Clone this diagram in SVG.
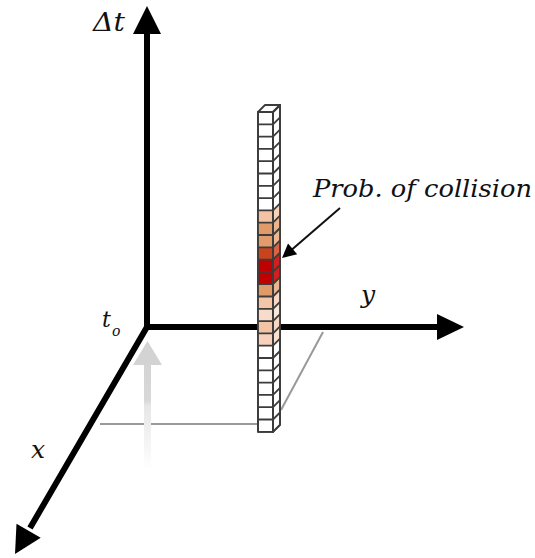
<svg xmlns="http://www.w3.org/2000/svg" width="535" height="558" viewBox="0 0 535 558">
<style>
.ax{stroke:#000;stroke-width:6;fill:none}
.gl{stroke:#999;stroke-width:2;fill:none}
.cell{stroke:#3c3c3c;stroke-width:1.8;stroke-linejoin:round}
.lbl{font-family:"DejaVu Serif","Liberation Serif",serif;font-style:italic;fill:#111}
</style>
<defs>
<linearGradient id="fade" x1="0" y1="0" x2="0" y2="1">
<stop offset="0" stop-color="#d4d4d4"/>
<stop offset="0.35" stop-color="#d8d8d8"/>
<stop offset="0.4" stop-color="#e6e6e6"/>
<stop offset="1" stop-color="#ffffff"/>
</linearGradient>
</defs>
<g id="floor">
<path class="gl" d="M323 332L281 410"/>
<path class="gl" d="M100 424H258"/>
<rect x="144" y="363" width="7" height="107" fill="url(#fade)"/>
<polygon points="147.5,341 133,365 162,365" fill="#d3d3d3"/>
</g>
<g id="connectors">
<path class="ax" d="M147 30V327L30 528"/>
<path class="ax" d="M147 327H440"/>
<polygon points="147,6 133,34 161,34" fill="#000"/>
<polygon points="464,327 437,314 437,340" fill="#000"/>
<polygon points="15,554 40.7,537.7 16.5,523.7" fill="#000"/>
</g>
<g id="column">
<rect class="cell" x="258" y="112" width="15" height="319.8" fill="#fff"/>
<polygon class="cell" points="273,112 280,105 280,424.8 273,431.8" fill="#fff"/>
<polygon class="cell" points="258,112 265,105 280,105 273,112" fill="#fff"/>
<rect x="258" y="210.4" width="15" height="12.3" fill="#f2c2a2"/>
<rect x="258" y="222.7" width="15" height="12.3" fill="#e29a68"/>
<rect x="258" y="235" width="15" height="12.3" fill="#e29c6c"/>
<rect x="258" y="247.3" width="15" height="12.3" fill="#c9431f"/>
<rect x="258" y="259.6" width="15" height="12.3" fill="#c00000"/>
<rect x="258" y="271.9" width="15" height="12.3" fill="#c00000"/>
<rect x="258" y="284.2" width="15" height="12.3" fill="#df9a68"/>
<rect x="258" y="296.5" width="15" height="12.3" fill="#f3c6a8"/>
<rect x="258" y="308.8" width="15" height="12.3" fill="#f8dccb"/>
<rect x="258" y="321.1" width="15" height="12.3" fill="#f2c4a6"/>
<rect x="258" y="333.4" width="15" height="12.3" fill="#f6d2bc"/>
<polygon points="273,210.4 280,203.4 280,215.7 273,222.7" fill="#f6d2bb"/>
<polygon points="273,222.7 280,215.7 280,228 273,235" fill="#ecb48c"/>
<polygon points="273,235 280,228 280,240.3 273,247.3" fill="#ecb690"/>
<polygon points="273,247.3 280,240.3 280,252.6 273,259.6" fill="#d86444"/>
<polygon points="273,259.6 280,252.6 280,264.9 273,271.9" fill="#d02020"/>
<polygon points="273,271.9 280,264.9 280,277.2 273,284.2" fill="#d02020"/>
<polygon points="273,284.2 280,277.2 280,289.5 273,296.5" fill="#ecb48c"/>
<polygon points="273,296.5 280,289.5 280,301.8 273,308.8" fill="#f8d8c4"/>
<polygon points="273,308.8 280,301.8 280,314.1 273,321.1" fill="#fbe6da"/>
<polygon points="273,321.1 280,314.1 280,326.4 273,333.4" fill="#f8d6c2"/>
<polygon points="273,333.4 280,326.4 280,338.7 273,345.7" fill="#f9e0d0"/>
<path class="cell" fill="none" d="M258 124.3H273L280 117.3M258 136.6H273L280 129.6M258 148.9H273L280 141.9M258 161.2H273L280 154.2M258 173.5H273L280 166.5M258 185.8H273L280 178.8M258 198.1H273L280 191.1M258 210.4H273L280 203.4M258 222.7H273L280 215.7M258 235H273L280 228M258 247.3H273L280 240.3M258 259.6H273L280 252.6M258 271.9H273L280 264.9M258 284.2H273L280 277.2M258 296.5H273L280 289.5M258 308.8H273L280 301.8M258 321.1H273L280 314.1M258 333.4H273L280 326.4M258 345.7H273L280 338.7M258 358H273L280 351M258 370.3H273L280 363.3M258 382.6H273L280 375.6M258 394.9H273L280 387.9M258 407.2H273L280 400.2M258 419.5H273L280 412.5"/>
<rect class="cell" x="258" y="112" width="15" height="319.8" fill="none"/>
<polygon class="cell" points="273,112 280,105 280,424.8 273,431.8" fill="none"/>
</g>
<g id="annotation">
<path d="M340 208L292 249.5" stroke="#111" stroke-width="2" fill="none"/>
<polygon points="282,258 297.2,254.2 288,243.6" fill="#000"/>
</g>
<g id="labels">
<text class="lbl" x="93" y="31" font-size="26" textLength="32" lengthAdjust="spacingAndGlyphs">Δt</text>
<text class="lbl" x="102" y="327" font-size="22">t</text>
<text class="lbl" x="112" y="336" font-size="14">o</text>
<text class="lbl" x="361" y="303" font-size="25">y</text>
<text class="lbl" x="31" y="458" font-size="25">x</text>
<text class="lbl" x="313" y="197" font-size="25" textLength="219" lengthAdjust="spacingAndGlyphs">Prob. of collision</text>
</g>
</svg>
